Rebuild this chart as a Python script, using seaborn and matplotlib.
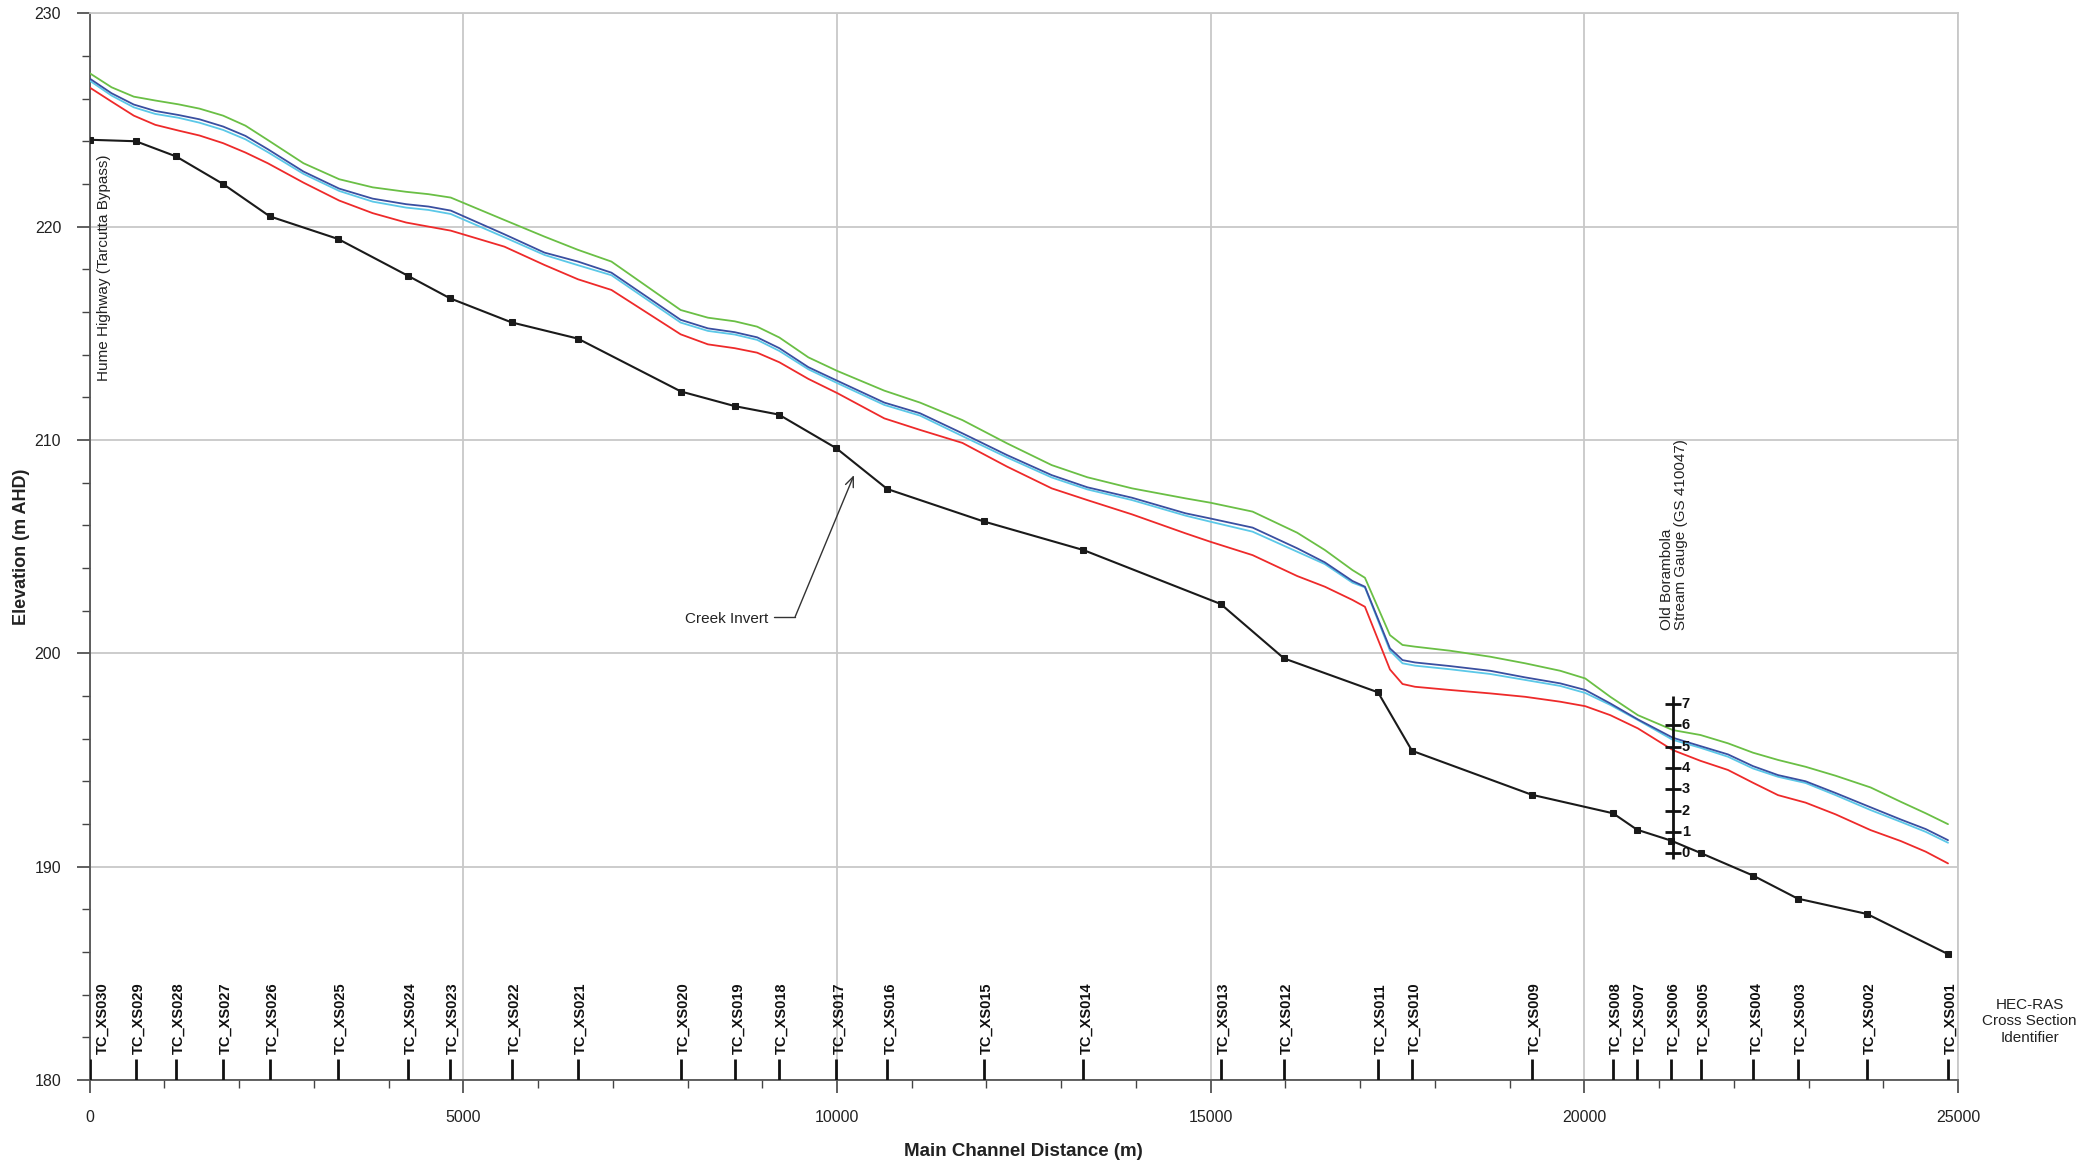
import numpy as np
import pandas as pd
import matplotlib
matplotlib.use("Agg")
import matplotlib.pyplot as plt
import matplotlib.transforms as mtransforms
from matplotlib.ticker import MultipleLocator
import seaborn as sns

# ---------------- data ----------------
xs_names = ["TC_XS030", "TC_XS029", "TC_XS028", "TC_XS027", "TC_XS026", "TC_XS025",
            "TC_XS024", "TC_XS023", "TC_XS022", "TC_XS021", "TC_XS020", "TC_XS019",
            "TC_XS018", "TC_XS017", "TC_XS016", "TC_XS015", "TC_XS014", "TC_XS013",
            "TC_XS012", "TC_XS011", "TC_XS010", "TC_XS009", "TC_XS008", "TC_XS007",
            "TC_XS006", "TC_XS005", "TC_XS004", "TC_XS003", "TC_XS002", "TC_XS001"]
xs_chainage = [0, 618, 1156, 1783, 2410, 3324, 4256, 4821, 5645, 6532, 7912, 8638,
               9220, 9991, 10672, 11962, 13296, 15134, 15981, 17239, 17694, 19295,
               20384, 20705, 21160, 21562, 22258, 22855, 23783, 24866]
invert = [224.07, 224.00, 223.29, 222.00, 220.48, 219.42, 217.70, 216.64, 215.51,
          214.75, 212.27, 211.58, 211.19, 209.61, 207.70, 206.18, 204.84, 202.31,
          199.76, 198.17, 195.43, 193.37, 192.50, 191.73, 191.22, 190.63, 189.58,
          188.50, 187.78, 185.90]

ws_chainage = [0, 293, 591, 878, 1189, 1469, 1786, 2085, 2383, 2861, 3339, 3787, 4235,
               4533, 4832, 5549, 6086, 6534, 6982, 7908, 8273, 8632, 8931, 9229, 9617,
               10006, 10633, 11111, 11678, 12275, 12873, 13350, 13948, 14665, 14993,
               15561, 16158, 16528, 16897, 17064, 17399, 17567, 17734, 18203, 18739,
               19208, 19677, 20012, 20347, 20716, 21185, 21553, 21922, 22257, 22592,
               22960, 23362, 23831, 24233, 24568, 24866]
ws_green = [227.19, 226.53, 226.09, 225.91, 225.73, 225.53, 225.20, 224.73, 224.06,
            222.97, 222.22, 221.84, 221.63, 221.52, 221.36, 220.31, 219.53, 218.91,
            218.36, 216.09, 215.73, 215.56, 215.31, 214.80, 213.87, 213.23, 212.31,
            211.75, 210.93, 209.84, 208.82, 208.25, 207.73, 207.26, 207.06, 206.64,
            205.65, 204.84, 203.90, 203.54, 200.85, 200.39, 200.31, 200.12, 199.84,
            199.53, 199.18, 198.82, 197.96, 197.10, 196.40, 196.17, 195.78, 195.34,
            195.00, 194.68, 194.26, 193.71, 193.04, 192.50, 191.99]
ws_darkblue = [226.94, 226.25, 225.72, 225.42, 225.23, 225.03, 224.69, 224.25, 223.63,
               222.58, 221.78, 221.31, 221.05, 220.94, 220.75, 219.64, 218.78, 218.36,
               217.84, 215.63, 215.23, 215.05, 214.81, 214.30, 213.41, 212.77, 211.75,
               211.25, 210.31, 209.29, 208.35, 207.78, 207.29, 206.56, 206.32, 205.89,
               204.92, 204.26, 203.39, 203.12, 200.23, 199.68, 199.57, 199.40, 199.18,
               198.87, 198.59, 198.28, 197.65, 196.90, 196.04, 195.65, 195.26, 194.71,
               194.29, 194.00, 193.45, 192.78, 192.21, 191.76, 191.24]
ws_lightblue = [226.84, 226.14, 225.59, 225.28, 225.10, 224.87, 224.53, 224.09, 223.49,
                222.47, 221.67, 221.17, 220.89, 220.78, 220.59, 219.50, 218.67, 218.19,
                217.72, 215.50, 215.11, 214.94, 214.69, 214.17, 213.31, 212.66, 211.64,
                211.14, 210.18, 209.18, 208.24, 207.68, 207.18, 206.45, 206.17, 205.70,
                204.76, 204.18, 203.31, 203.09, 200.12, 199.53, 199.42, 199.25, 199.03,
                198.75, 198.47, 198.14, 197.58, 196.87, 195.94, 195.57, 195.15, 194.60,
                194.21, 193.92, 193.35, 192.65, 192.10, 191.63, 191.12]
ws_red = [226.52, 225.86, 225.20, 224.77, 224.50, 224.27, 223.91, 223.47, 222.97,
          222.06, 221.22, 220.63, 220.19, 220.00, 219.81, 219.06, 218.20, 217.53,
          217.03, 214.95, 214.48, 214.30, 214.09, 213.64, 212.86, 212.19, 211.01,
          210.47, 209.86, 208.75, 207.73, 207.18, 206.51, 205.62, 205.23, 204.60,
          203.62, 203.12, 202.50, 202.18, 199.24, 198.56, 198.43, 198.28, 198.12,
          197.96, 197.73, 197.52, 197.10, 196.48, 195.46, 194.96, 194.53, 193.93,
          193.35, 193.00, 192.45, 191.71, 191.20, 190.70, 190.15]

profile_names = ["red", "lightblue", "darkblue", "green"]
profile_colors = {"red": "#ee2a2a", "lightblue": "#5bc8e8",
                  "darkblue": "#3a4fa0", "green": "#6abf45"}

gauge_chainage = 21184
gauge_zero = 190.62
gauge_readings = [0, 1, 2, 3, 4, 5, 6, 7]

x_ticks = [0, 5000, 10000, 15000, 20000, 25000]
y_ticks = [180, 190, 200, 210, 220, 230]

# ---------------- style ----------------
sns.set_theme(style="white")
plt.rcParams["font.family"] = ["Liberation Sans", "DejaVu Sans"]

fig = plt.figure(figsize=(20.85, 11.62), dpi=100)
ax = fig.add_axes([0.0430, 0.0706, 0.8961, 0.9180])

ws_df = pd.DataFrame({
    "chainage": ws_chainage * 4,
    "elevation": ws_red + ws_lightblue + ws_darkblue + ws_green,
    "profile": sum([[p] * len(ws_chainage) for p in profile_names], []),
})

sns.lineplot(data=ws_df, x="chainage", y="elevation", hue="profile",
             hue_order=profile_names, palette=profile_colors, estimator=None,
             sort=False, legend=False, linewidth=1.3, ax=ax, zorder=3)

sns.lineplot(x=xs_chainage, y=invert, color="#1a1a1a", marker="s", markersize=5,
             markeredgecolor="#1a1a1a", linewidth=1.5, estimator=None, sort=False,
             ax=ax, zorder=4)

# axes limits, ticks, grid
ax.set_xlim(0, 25000)
ax.set_ylim(180, 230)
ax.set_xticks(x_ticks)
ax.set_yticks(y_ticks)
ax.xaxis.set_minor_locator(MultipleLocator(1000))
ax.yaxis.set_minor_locator(MultipleLocator(2))
ax.grid(True, which="major", color="#c8c8c8", linewidth=1.3)
ax.set_axisbelow(True)
ax.tick_params(which="major", direction="out", length=9.5, width=1.2, color="#444444",
               labelsize=11.5, labelcolor="#222222", bottom=True, left=True)
ax.tick_params(axis="x", which="major", pad=12)
ax.tick_params(axis="y", which="major", pad=11)
ax.tick_params(which="minor", direction="out", length=5.5, width=1.0, color="#444444",
               bottom=True, left=True)
for s in ["left", "bottom"]:
    ax.spines[s].set_color("#555555")
    ax.spines[s].set_linewidth(1.3)
for s in ["top", "right"]:
    ax.spines[s].set_color("#c8c8c8")
    ax.spines[s].set_linewidth(1.3)

ax.set_xlabel("Main Channel Distance (m)", fontsize=13.5, fontweight="bold",
              color="#222222", labelpad=13)
ax.set_ylabel("Elevation (m AHD)", fontsize=13, fontweight="bold", color="#222222",
              labelpad=3)

# cross-section identifier ticks and labels
ax.vlines(xs_chainage, 180, 181.0, color="#111111", linewidth=2.0, zorder=5)
for name, ch in zip(xs_names, xs_chainage):
    dx = 13 if ch == xs_chainage[0] else 3
    tr = mtransforms.offset_copy(ax.transData, fig=fig, x=dx, y=0, units="dots")
    ax.text(ch, 181.2, name, rotation=90, ha="center", va="bottom", fontsize=10.5,
            fontweight="bold", color="#111111", transform=tr)

ax.text(25957, 182.75, "HEC-RAS\nCross Section\nIdentifier", ha="center", va="center",
        fontsize=11, color="#222222", linespacing=1.25, clip_on=False)

# Hume Highway label
ax.text(186, 223.4, "Hume Highway (Tarcutta Bypass)", rotation=90, ha="center",
        va="top", fontsize=11, color="#222222")

# creek invert annotation
ax.text(9080, 201.63, "Creek Invert", ha="right", va="center", fontsize=11,
        color="#222222")
ax.plot([9160, 9440], [201.71, 201.71], color="#333333", linewidth=1.0)
ax.annotate("", xy=(10227, 208.35), xytext=(9440, 201.71),
            arrowprops=dict(arrowstyle="->,head_length=0.6,head_width=0.25",
                            color="#333333", lw=1.0, shrinkA=0, shrinkB=0))

# stream gauge staff
ax.vlines(gauge_chainage, gauge_zero - 0.25, gauge_zero + gauge_readings[-1] + 0.38,
          color="#111111", linewidth=2.0, zorder=6)
ax.plot([gauge_chainage] * len(gauge_readings), [gauge_zero + r for r in gauge_readings],
        linestyle="none", marker="_", markersize=11, markeredgewidth=2.0,
        color="#111111", zorder=6)
tr_g = mtransforms.offset_copy(ax.transData, fig=fig, x=9, y=0, units="dots")
for r in gauge_readings:
    ax.text(gauge_chainage, gauge_zero + r, str(r), ha="left", va="center",
            fontsize=10.5, fontweight="bold", color="#111111", transform=tr_g, zorder=6)

ax.text(21201, 201.1, "Old Borambola\nStream Gauge (GS 410047)", rotation=90,
        ha="center", va="bottom", multialignment="left", fontsize=11,
        color="#222222", linespacing=1.05)

fig.savefig("out.png", dpi=100)
